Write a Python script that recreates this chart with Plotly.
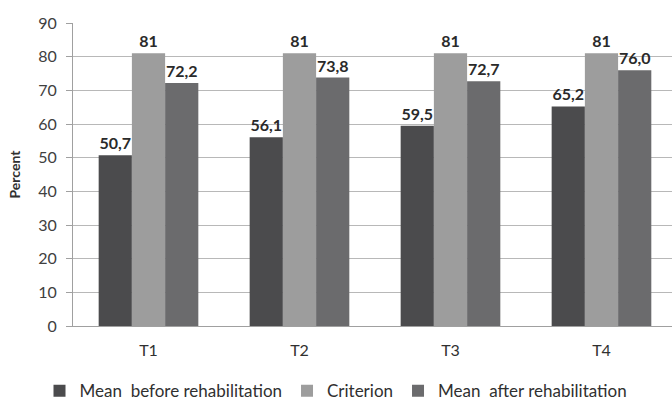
import plotly.graph_objects as go

categories = ["T1", "T2", "T3", "T4"]
before = [50.7, 56.1, 59.5, 65.2]
criterion = [81, 81, 81, 81]
after = [72.2, 73.8, 72.7, 76.0]
before_labels = ["50,7", "56,1", "59,5", "65,2"]
criterion_labels = ["81", "81", "81", "81"]
after_labels = ["72,2", "73,8", "72,7", "76,0"]
y_ticks = [0, 10, 20, 30, 40, 50, 60, 70, 80, 90]

FONT = "Lato, Liberation Sans, sans-serif"
label_font = dict(family=FONT, size=16, color="#2a2a2a")

fig = go.Figure()
for name, vals, labels, color in [
    ("Mean  before rehabilitation", before, before_labels, "#4b4b4d"),
    ("Criterion", criterion, criterion_labels, "#9d9d9d"),
    ("Mean  after rehabilitation", after, after_labels, "#6b6b6d"),
]:
    fig.add_trace(go.Bar(
        x=categories, y=vals, name=name, marker=dict(color=color, line=dict(width=0)),
        text=labels, texttemplate="<b>%{text}</b>", textposition="outside",
        textfont=label_font, constraintext="none", cliponaxis=False,
    ))

fig.update_layout(
    width=672, height=400,
    margin=dict(l=73, r=0, t=23, b=74, autoexpand=False),
    paper_bgcolor="white", plot_bgcolor="white",
    barmode="group", bargap=0.34, bargroupgap=0,
    font=dict(family=FONT, color="#404040"),
    legend=dict(orientation="h", xref="container", yref="paper",
                x=0.5, xanchor="center", y=-0.215, yanchor="middle",
                font=dict(family=FONT, size=17, color="#303030"),
                itemwidth=30, tracegroupgap=0),
    showlegend=True,
)
fig.update_xaxes(range=[-0.5, 3.467], showline=True, linecolor="#a0a0a0", linewidth=1, automargin=False,
                 ticklabelstandoff=10,
                 tickfont=dict(family=FONT, size=16, color="#303030"), ticks="", showgrid=False)
fig.update_yaxes(range=[0, 90], tickvals=y_ticks, showgrid=True, gridcolor="#b8b8b8", gridwidth=1,
                 showline=True, linecolor="#a0a0a0", ticks="outside", ticklen=6, tickcolor="#a0a0a0",
                 automargin=False, ticklabelstandoff=6,
                 tickfont=dict(family=FONT, size=16, color="#404040"), zeroline=False,
                 title=dict(text="<b>Percent</b>", font=dict(family=FONT, size=14, color="#303030"), standoff=14))

fig.write_html("out.html", config={"displayModeBar": False},
               post_script="document.body.style.margin='0px';document.body.style.overflow='hidden';")
